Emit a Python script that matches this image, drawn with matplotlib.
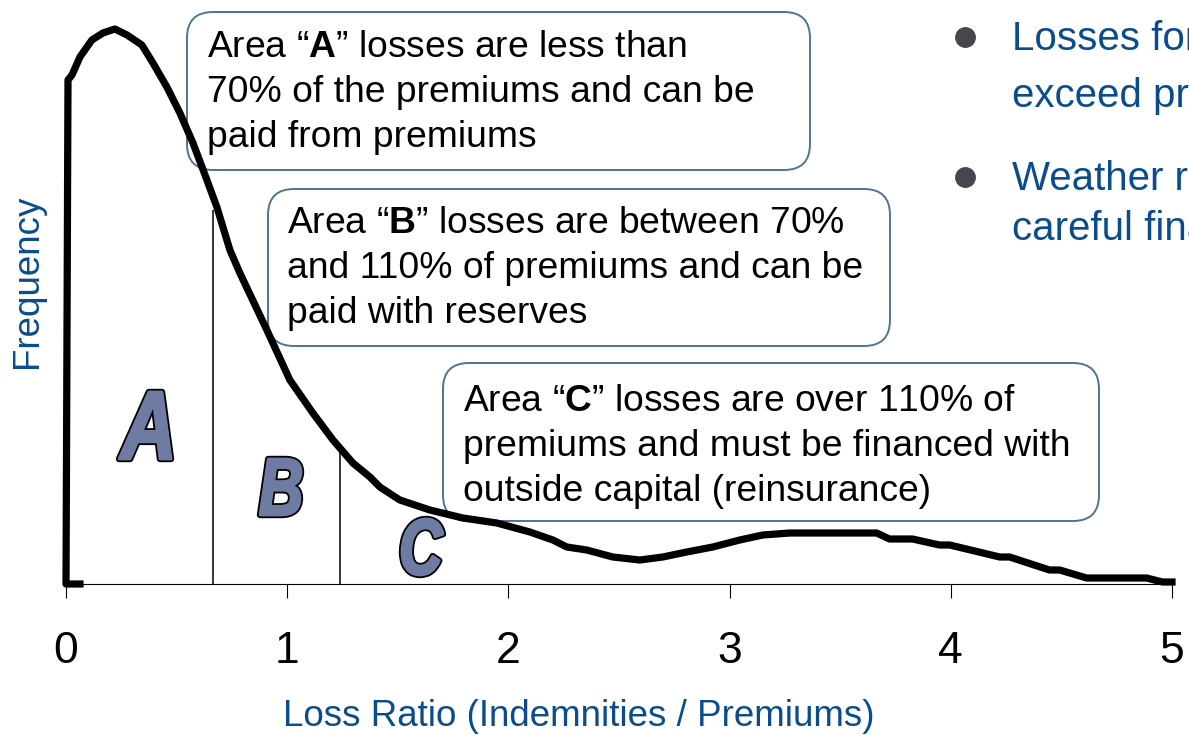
import matplotlib
matplotlib.use('Agg')
import matplotlib.pyplot as plt
from matplotlib.patches import FancyBboxPatch, PathPatch
from matplotlib.textpath import TextPath
from matplotlib.font_manager import FontProperties
from matplotlib.transforms import Affine2D

plt.rcParams['font.family'] = ['Liberation Sans', 'DejaVu Sans']
plt.rcParams['mathtext.fontset'] = 'custom'
plt.rcParams['mathtext.rm'] = 'Liberation Sans'
plt.rcParams['mathtext.bf'] = 'Liberation Sans:bold'

BLUE = '#0B4C8C'
BOX_EDGE = '#4E7395'
LETTER_FILL = '#6E7BA3'

# loss distribution
loss_ratio = [0.063, 0.0, 0.009, 0.027, 0.063, 0.117, 0.167, 0.221, 0.276,
              0.343, 0.393, 0.456, 0.515, 0.574, 0.637, 0.682, 0.741, 0.786,
              0.908, 1.012, 1.116, 1.207, 1.297, 1.374, 1.419, 1.509, 1.645,
              1.794, 1.948, 2.097, 2.201, 2.264, 2.354, 2.472, 2.594, 2.698,
              2.806, 2.924, 3.046, 3.150, 3.272, 3.665, 3.723, 3.827, 3.949,
              3.995, 4.221, 4.266, 4.446, 4.492, 4.614, 4.885, 4.957, 5.0]
frequency = [0.0, 0.0, 5.04, 5.09, 5.27, 5.44, 5.51, 5.55, 5.49,
             5.39, 5.21, 4.97, 4.71, 4.41, 4.04, 3.77, 3.34, 3.11,
             2.54, 2.04, 1.71, 1.44, 1.21, 1.07, 0.97, 0.84, 0.74,
             0.66, 0.61, 0.52, 0.44, 0.37, 0.34, 0.27, 0.24, 0.27,
             0.32, 0.37, 0.44, 0.49, 0.51, 0.51, 0.45, 0.45, 0.39,
             0.39, 0.27, 0.27, 0.14, 0.14, 0.06, 0.06, 0.02, 0.02]

# area boundaries (A|B, B|C)
cut_ratio = [0.665, 1.24]
cut_top = [3.74, 1.39]

area_labels = ['A', 'B', 'C']

ticks = [0, 1, 2, 3, 4, 5]

box_a = ['Area \u201c$\\mathbf{A}$\u201d losses are less than',
         '70% of the premiums and can be',
         'paid from premiums']
box_b = ['Area \u201c$\\mathbf{B}$\u201d losses are between 70%',
         'and 110% of premiums and can be',
         'paid with reserves']
box_c = ['Area \u201c$\\mathbf{C}$\u201d losses are over 110% of',
         'premiums and must be financed with',
         'outside capital (reinsurance)']

bullet_a = ['Losses for some years can', 'exceed premiums']
bullet_b = ['Weather risk requires', 'careful financial planning']

W, H = 1189, 735
fig = plt.figure(figsize=(W / 100, H / 100), dpi=100)

# overlay in pixel units for the callout boxes, letters and side text
ov = fig.add_axes([0, 0, 1, 1], zorder=0)
ov.set_xlim(0, W)
ov.set_ylim(H, 0)
ov.axis('off')

ax = fig.add_axes([66 / W, 151 / H, 1106 / W, 584 / H], zorder=1)
ax.patch.set_alpha(0)

ax.plot(loss_ratio, frequency, color='black', lw=5.2, solid_joinstyle='round',
        clip_on=False, zorder=3)
ax.vlines(cut_ratio, 0, cut_top, color='black', lw=1.1, zorder=2)

ax.set_xlim(0, 5)
ax.set_ylim(0, 5.84)
ax.set_xticks(ticks)
ax.set_xticklabels([str(t) for t in ticks])
ax.set_yticks([])
for side in ['top', 'right', 'left']:
    ax.spines[side].set_visible(False)
ax.spines['bottom'].set_linewidth(0.8)
ax.tick_params(axis='x', length=10, width=0.8, pad=24, labelsize=32)

fig.text(28 / W, 1 - 281 / H, 'Frequency', rotation=90, color=BLUE,
         fontsize=26.5, ha='center', va='center')
fig.text(579 / W, 1 - 716 / H, 'Loss Ratio (Indemnities / Premiums)',
         color=BLUE, fontsize=26.5, ha='center', va='center')

# big condensed heavy italic area letters, fitted into (left, top, right, bottom)
letter_boxes = [(119, 392, 171, 459), (260, 459, 301, 515), (402, 519, 443, 575)]
fp = FontProperties(family='Liberation Sans', weight='bold', style='italic')
for lab, (x0, y0, x1, y1) in zip(area_labels, letter_boxes):
    tp = TextPath((0, 0), lab, size=100, prop=fp)
    ext = tp.get_extents()
    tr = (Affine2D().translate(-ext.x0, -ext.y1)
          .scale((x1 - x0) / ext.width, -(y1 - y0) / ext.height)
          .translate(x0, y0))
    glyph = tr.transform_path(tp)
    # thick black edge under, fill-coloured edge over: a heavier glyph
    ov.add_patch(PathPatch(glyph, fc='black', ec='black', lw=4.6,
                           joinstyle='round'))
    ov.add_patch(PathPatch(glyph, fc=LETTER_FILL, ec=LETTER_FILL, lw=2.0,
                           joinstyle='round'))

# callout boxes: (left, top, right, bottom), text left, first baseline
boxes = [((187, 12, 810, 170), 207, 57, box_a),
         ((268, 189, 890, 346), 287, 233, box_b),
         ((443, 363, 1099, 521), 463, 411, box_c)]
for (x0, y0, x1, y1), tx, base, lines in boxes:
    ov.add_patch(FancyBboxPatch((x0, y0), x1 - x0, y1 - y0,
                                boxstyle='round,pad=0,rounding_size=26',
                                fc='white', ec=BOX_EDGE, lw=1.4))
    for i, line in enumerate(lines):
        ov.text(tx, base + 45 * i, line, fontsize=26.8, color='black',
                ha='left', va='baseline')

# bullets on the right (cut off by the slide edge, as in the original)
for by, lines, bases in [(37, bullet_a, [50, 107]), (177, bullet_b, [190, 240])]:
    ov.plot(965, by, 'o', ms=14, color='#46464E')
    for line, b in zip(lines, bases):
        ov.text(1012, b, line, fontsize=29, color=BLUE, ha='left',
                va='baseline')

fig.savefig('out.png', dpi=100)
